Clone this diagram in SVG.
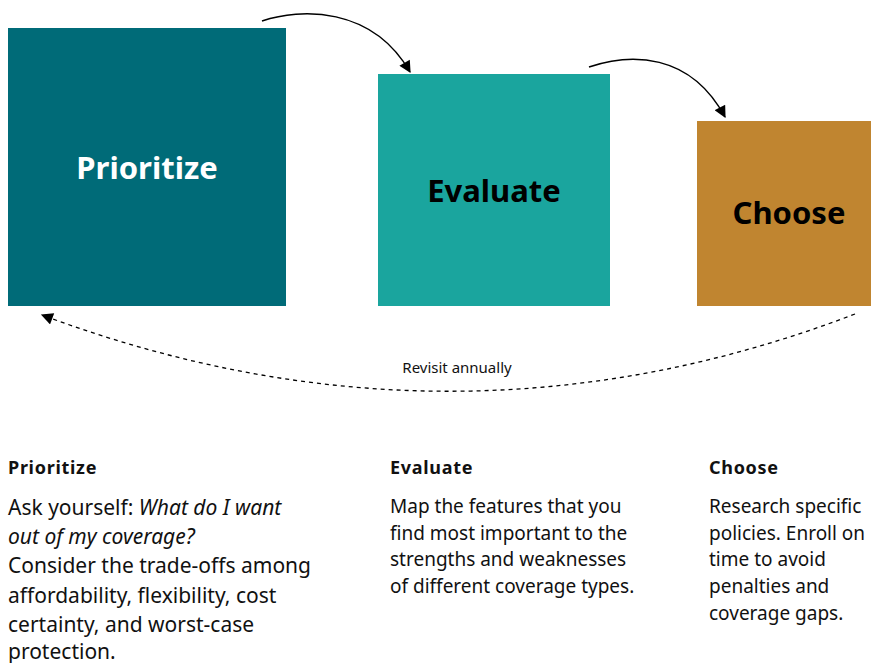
<svg xmlns="http://www.w3.org/2000/svg" width="871" height="663" viewBox="0 0 871 663">
<defs>
<marker id="ah" viewBox="0 0 10 10" refX="9" refY="5" markerUnits="userSpaceOnUse" markerWidth="13" markerHeight="12" orient="auto">
<path d="M0,0 L10,5 L0,10 z" fill="#000"/>
</marker>
</defs>
<style>
.box-label{font-family:"Noto Sans","Lato",sans-serif;font-weight:700;font-size:31px;text-anchor:middle}
.head{font-family:"Noto Sans","Lato",sans-serif;font-weight:700;font-size:18px;letter-spacing:0.7px;fill:#111}
.body1{font-family:"Noto Sans","Lato",sans-serif;font-size:21px;fill:#111}
.body2{font-family:"Noto Sans","Lato",sans-serif;font-size:19px;fill:#111}
.conn{fill:none;stroke:#000;stroke-width:1.5}
.dash{fill:none;stroke:#000;stroke-width:1.3;stroke-dasharray:4 4}
</style>
<rect width="871" height="663" fill="#fff"/>
<g id="node-prioritize">
<rect x="8" y="28" width="278" height="278" fill="#006B78"/>
<text class="box-label" x="147" y="179" fill="#fff">Prioritize</text>
</g>
<g id="node-evaluate">
<rect x="378" y="74" width="232" height="232" fill="#1AA59E"/>
<text class="box-label" x="494" y="202" fill="#000">Evaluate</text>
</g>
<g id="node-choose">
<rect x="697" y="121" width="174" height="185" fill="#C08530"/>
<text class="box-label" x="789" y="224" fill="#000">Choose</text>
</g>
<g id="connectors">
<path class="conn" d="M262,21 C300,8 372,6 410,72" marker-end="url(#ah)"/>
<path class="conn" d="M589,67 C630,53 690,52 725,117" marker-end="url(#ah)"/>
<path class="dash" d="M855,314 Q452,468 42,315" marker-end="url(#ah)"/>
<text x="457" y="373" text-anchor="middle" font-family="'Noto Sans', Lato, sans-serif" font-size="15" fill="#111">Revisit annually</text>
</g>
<g id="desc-prioritize">
<text class="head" x="8" y="474">Prioritize</text>
<text class="body1" x="8" y="515">Ask yourself: <tspan font-style="italic">What do I want</tspan></text>
<text class="body1" x="8" y="544" font-style="italic">out of my coverage?</text>
<text class="body1" x="8" y="573">Consider the trade-offs among</text>
<text class="body1" x="8" y="603">affordability, flexibility, cost</text>
<text class="body1" x="8" y="632">certainty, and worst-case</text>
<text class="body1" x="8" y="659">protection.</text>
</g>
<g id="desc-evaluate">
<text class="head" x="390" y="474">Evaluate</text>
<text class="body2" x="390" y="513">Map the features that you</text>
<text class="body2" x="390" y="540">find most important to the</text>
<text class="body2" x="390" y="566">strengths and weaknesses</text>
<text class="body2" x="390" y="593">of different coverage types.</text>
</g>
<g id="desc-choose">
<text class="head" x="709" y="474">Choose</text>
<text class="body2" x="709" y="513">Research specific</text>
<text class="body2" x="709" y="540">policies. Enroll on</text>
<text class="body2" x="709" y="566">time to avoid</text>
<text class="body2" x="709" y="593">penalties and</text>
<text class="body2" x="709" y="620">coverage gaps.</text>
</g>
</svg>
